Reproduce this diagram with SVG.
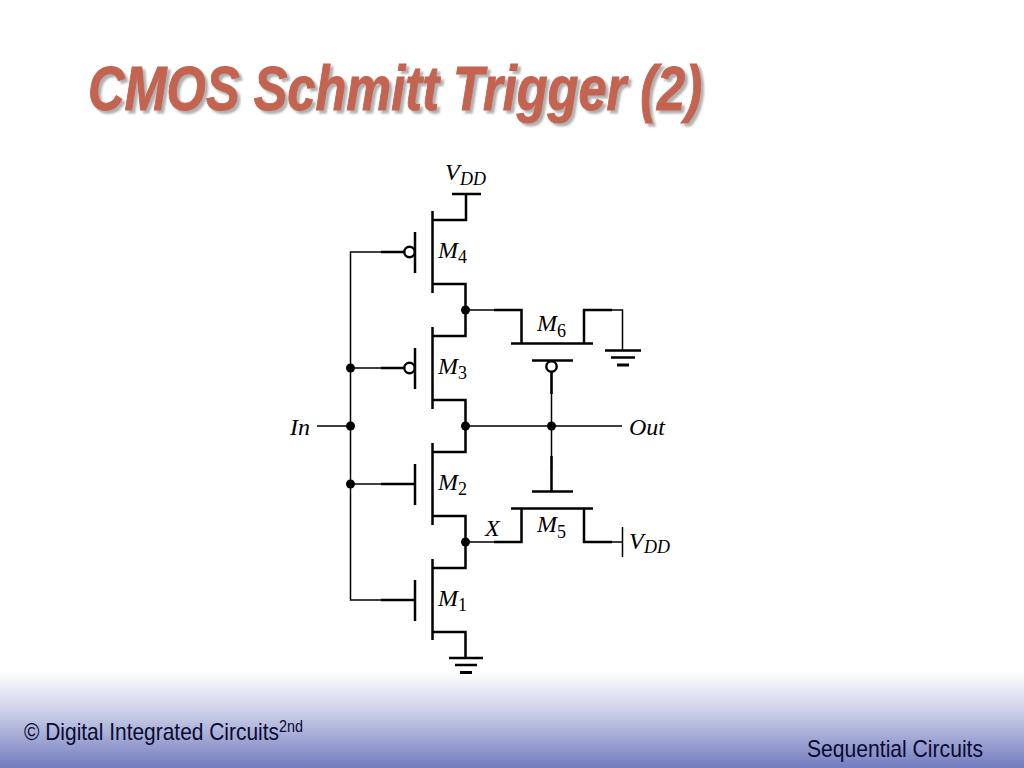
<svg xmlns="http://www.w3.org/2000/svg" width="1024" height="768" viewBox="0 0 1024 768">
<style>
.w{fill:none;stroke:#000;stroke-width:1.5}
.b{fill:none;stroke:#000;stroke-width:2.5}
.d{fill:#000;stroke:none}
.o{fill:#fff;stroke:#000;stroke-width:2.4}
.t{font-family:"Liberation Serif",serif;font-style:italic;font-size:24px;fill:#000}
.s{font-family:"Liberation Serif",serif;font-size:18px;fill:#000}
.si{font-family:"Liberation Serif",serif;font-style:italic;font-size:18px;fill:#000}
.f{font-family:"Liberation Sans",sans-serif;font-size:24px;fill:#0a0a30}
.h{font-family:"Liberation Sans",sans-serif;font-weight:bold;font-style:italic;font-size:63px;fill:#c4644f;stroke:#c4644f;stroke-width:1}
</style>
<defs>
<linearGradient id="g" x1="0" y1="0" x2="0" y2="1"><stop offset="0" stop-color="#fff"/><stop offset="0.45" stop-color="#c6cae6"/><stop offset="1" stop-color="#727cbe"/></linearGradient>
<filter id="sh" x="-5%" y="-20%" width="110%" height="140%"><feDropShadow dx="3" dy="3" stdDeviation="0.8" flood-color="#b0b0b0"/></filter>
</defs>
<rect width="1024" height="768" fill="#fff"/>
<rect id="band" y="672" width="1024" height="96" fill="url(#g)"/>
<g id="title"><text class="h" x="88" y="110" filter="url(#sh)" textLength="614" lengthAdjust="spacingAndGlyphs">CMOS Schmitt Trigger (2)</text></g>
<g id="connectors">
<path class="w" d="M381 252H350.500V600H381M350.500 368H381M350.500 484H381M317 426H350.500M465.500 310H494M465.500 426H622M465.500 542H494M584 310H622.500V350M551.500 372V470M584 542H622.500"/>
<path class="b" d="M381 252H404M381 368H404M381 484H415M381 600H415M551.500 372V394M551.500 456V491M494 310H521.500V343M494 542H521.500V509M612 310H584V343M612 542H584V509"/>
</g>
<g id="M4"><path class="b" d="M415 232V273M432.500 211V293M432.500 220H466V194M452 194H481M432.500 284H465.500V310"/><circle class="o" cx="409.500" cy="252" r="5.200"/><text class="t" x="438" y="258">M</text><text class="s" x="458" y="263">4</text></g>
<g id="M3"><path class="b" d="M415 348V389M432.500 327V409M432.500 336H465.500V310M432.500 400H465.500V426"/><circle class="o" cx="409.500" cy="368" r="5.200"/><text class="t" x="438" y="374">M</text><text class="s" x="458" y="379">3</text></g>
<g id="M2"><path class="b" d="M415 464V505M432.500 443V525M432.500 452H465.500V426M432.500 516H465.500V542"/><text class="t" x="438" y="490">M</text><text class="s" x="458" y="495">2</text></g>
<g id="M1"><path class="b" d="M415 580V621M432.500 559V640M432.500 568H465.500V542M432.500 632H465.500V658"/><text class="t" x="438" y="606">M</text><text class="s" x="458" y="611">1</text></g>
<g id="M6"><path class="b" d="M511 343.500H593M532 360.500H573"/><circle class="o" cx="551.500" cy="366.500" r="5.200"/><text class="t" x="537" y="331">M</text><text class="s" x="557" y="337">6</text></g>
<g id="M5"><path class="b" d="M511 508.500H593M532 491.500H573"/><text class="t" x="537" y="532">M</text><text class="s" x="557" y="538">5</text></g>
<g id="gnd1"><path class="b" d="M449 658H483M455 665H477"/><path d="M460 672.500H472" stroke="#000" stroke-width="3"/></g>
<g id="gnd2"><path class="b" d="M605 350.500H641M611 357.500H635"/><path d="M617 365H629" stroke="#000" stroke-width="3"/></g>
<g id="vdd-top"><text class="t" x="445" y="180">V</text><text class="si" x="460" y="185">DD</text></g>
<g id="vdd-right"><path class="w" d="M622.500 527V557"/><text class="t" x="629" y="549">V</text><text class="si" x="644" y="553">DD</text></g>
<g id="junctions"><circle class="d" cx="350.500" cy="368" r="4.500"/><circle class="d" cx="350.500" cy="426" r="4.500"/><circle class="d" cx="350.500" cy="484" r="4.500"/><circle class="d" cx="465.500" cy="310" r="4.500"/><circle class="d" cx="465.500" cy="426" r="4.500"/><circle class="d" cx="465.500" cy="542" r="4.500"/><circle class="d" cx="551.500" cy="426" r="4.500"/></g>
<g id="labels"><text class="t" x="290" y="435">In</text><text class="t" x="629" y="435">Out</text><text class="t" x="485" y="536">X</text></g>
<g id="footer"><text class="f" x="24" y="740" textLength="279" lengthAdjust="spacingAndGlyphs">© Digital Integrated Circuits<tspan font-size="16.500" dy="-8">2nd</tspan></text><text class="f" x="807" y="757" textLength="176" lengthAdjust="spacingAndGlyphs">Sequential Circuits</text></g>
</svg>
